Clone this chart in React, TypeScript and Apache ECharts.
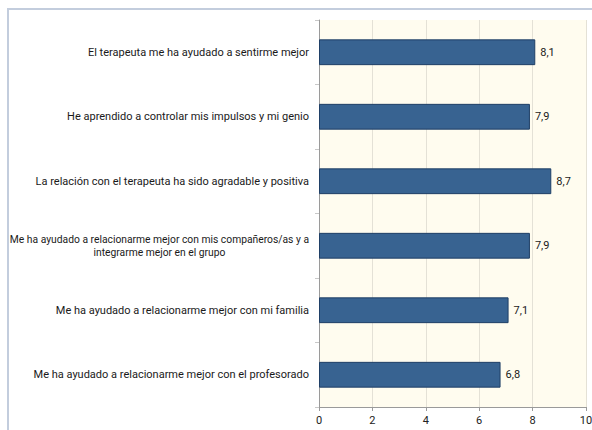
import React, { useEffect, useRef } from "react";
import * as echarts from "echarts";

const categories = [
  "El terapeuta me ha ayudado a sentirme mejor",
  "He aprendido a controlar mis impulsos y mi genio",
  "La relación con el terapeuta ha sido agradable y positiva",
  "Me ha ayudado a relacionarme mejor con mis compañeros/as y a\nintegrarme mejor en el grupo",
  "Me ha ayudado a relacionarme mejor con mi familia",
  "Me ha ayudado a relacionarme mejor con el profesorado",
];
const values = [8.1, 7.9, 8.7, 7.9, 7.1, 6.8];
const xTicks = [0, 2, 4, 6, 8, 10];

const FONT = "'Liberation Sans Narrow', 'Roboto', sans-serif";

export default function App() {
  const ref = useRef<HTMLDivElement>(null);
  useEffect(() => {
    if (!ref.current) return;
    const chart = echarts.init(ref.current, null, { renderer: "svg" });
    const cats = [...categories].reverse();
    const vals = [...values].reverse();
    chart.setOption({
      animation: false,
      backgroundColor: "transparent",
      textStyle: { fontFamily: FONT },
      grid: {
        left: 319,
        top: 20,
        right: 6,
        bottom: 23,
        containLabel: false,
        outerBoundsMode: "none",
        show: true,
        backgroundColor: "#fffcef",
        borderWidth: 0,
      },
      xAxis: {
        type: "value",
        min: xTicks[0],
        max: xTicks[xTicks.length - 1],
        interval: 2,
        axisLine: { show: true, lineStyle: { color: "#9a9a9a" } },
        axisTick: { show: true, length: 4, lineStyle: { color: "#9a9a9a" } },
        axisLabel: { color: "#222", fontSize: 11, fontFamily: FONT, margin: 8 },
        splitLine: { show: true, lineStyle: { color: "#e4e1d6" } },
      },
      yAxis: {
        type: "category",
        data: cats,
        axisLine: { show: true, lineStyle: { color: "#9a9a9a" } },
        axisTick: { show: true, length: 4, lineStyle: { color: "#c8c8c8" } },
        axisLabel: {
          color: "#1a1a1a",
          fontSize: 11,
          fontFamily: FONT,
          margin: 10,
          lineHeight: 13,
          formatter: (v: string) => (v.indexOf("\n") >= 0 ? `{d|${v}}` : `{c|${v}}`),
          rich: {
            c: { align: "center", fontSize: 11, fontFamily: FONT, color: "#1a1a1a", lineHeight: 13 },
            d: { align: "center", fontSize: 10.3, fontFamily: FONT, color: "#1a1a1a", lineHeight: 13 },
          },
        },
      },
      series: [
        {
          type: "bar",
          data: vals,
          barWidth: "40%",
          itemStyle: { color: "#386391", borderColor: "#1f3f66", borderWidth: 1 },
          label: {
            show: true,
            position: "right",
            distance: 5,
            color: "#1a1a1a",
            fontSize: 11,
            fontFamily: FONT,
            formatter: (p: any) => String(p.value.toFixed(1)).replace(".", ","),
          },
        },
      ],
    });
    return () => chart.dispose();
  }, []);
  return (
    <div style={{ position: "absolute", left: 0, top: 0, width: 592, height: 430, background: "#ffffff", overflow: "hidden" }}>
      <div
        style={{
          position: "absolute",
          left: 7,
          top: 8,
          width: 600,
          height: 440,
          borderTop: "2px solid #c3cddd",
          borderLeft: "2px solid #c3cddd",
          boxSizing: "border-box",
        }}
      />
      <div
        ref={ref}
        style={{ position: "absolute", left: 0, top: 0, width: 592, height: 430 }}
      />
    </div>
  );
}
